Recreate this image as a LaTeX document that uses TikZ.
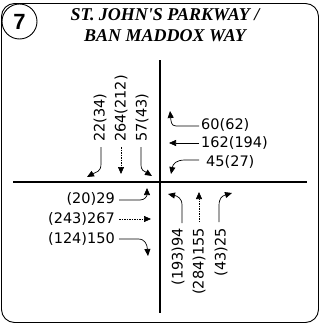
\documentclass[tikz,border=0pt]{standalone}
\usepackage{fontspec}
\setmainfont{DejaVu Sans}
\newfontfamily\titlefont{Liberation Serif}
\newfontfamily\numfont{Liberation Sans}
\usetikzlibrary{arrows.meta}
\begin{document}
\begin{tikzpicture}[x=1pt,y=-1pt,
  vol/.style={font=\fontsize{14.5}{16}\selectfont, inner sep=0pt},
  mv/.style={line width=0.7pt, -{Triangle[length=7pt,width=6pt]}},
  thru/.style={mv, dash pattern=on 1.5pt off 1pt},
  road/.style={line width=1.8pt}]
\useasboundingbox (0,0) rectangle (320,324);
\draw[line width=0.9pt, rounded corners=13pt] (1.5,3.5) rectangle (318.5,322.5);
\node[circle, draw, line width=0.9pt, fill=white, minimum size=35pt, inner sep=0pt,
  font=\numfont\bfseries\fontsize{22}{22}\selectfont] (num) at (19.5,21.5) {7};
\node[font=\titlefont\bfseries\itshape\fontsize{18}{21}\selectfont, align=center] (title) at (165,25)
  {ST. JOHN'S PARKWAY /\\BAN MADDOX WAY};
% roads
\coordinate (rn) at (160,60);
\coordinate (rs) at (160,313);
\coordinate (rw) at (13,182);
\coordinate (re) at (307,182);
\draw[road] (rn) -- (rs);
\draw[road] (rw) -- (re);
% southbound
\node[vol, rotate=90, anchor=west] (s1) at (100,142) {22(34)};
\node[vol, rotate=90, anchor=west] (s2) at (121,142) {264(212)};
\node[vol, rotate=90, anchor=west] (s3) at (142,142) {57(43)};
\coordinate (s1a) at (101,147); \coordinate (s1b) at (87,177);
\coordinate (s2a) at (121,147); \coordinate (s2b) at (121,174);
\coordinate (s3a) at (141,147); \coordinate (s3b) at (152,176);
\draw[mv] (s1a) -- (101,164) .. controls (101,172) and (96,172) .. (s1b);
\draw[thru] (s2a) -- (s2b);
\draw[mv] (s3a) -- (141,164) .. controls (141,171) and (144,171) .. (s3b);
% westbound
\node[vol, anchor=west] (w1) at (201,125) {60(62)};
\node[vol, anchor=west] (w2) at (201,143) {162(194)};
\node[vol, anchor=west] (w3) at (206,162) {45(27)};
\coordinate (w1a) at (199,126); \coordinate (w1b) at (170,111);
\coordinate (w2a) at (199,143); \coordinate (w2b) at (169,143);
\coordinate (w3a) at (199,160); \coordinate (w3b) at (171,174);
\draw[mv] (w1a) -- (176,126) .. controls (171,126) and (171,121) .. (w1b);
\draw[mv] (w2a) -- (w2b);
\draw[mv] (w3a) -- (185,160) .. controls (176,160) and (173,164) .. (w3b);
% eastbound
\node[vol, anchor=east] (e1) at (115,199) {(20)29};
\node[vol, anchor=east] (e2) at (115,219) {(243)267};
\node[vol, anchor=east] (e3) at (115,239) {(124)150};
\coordinate (e1a) at (119,200); \coordinate (e1b) at (147,188);
\coordinate (e2a) at (119,219); \coordinate (e2b) at (151,219);
\coordinate (e3a) at (119,239); \coordinate (e3b) at (148,256);
\draw[mv] (e1a) -- (140,200) .. controls (145,200) and (147,196) .. (e1b);
\draw[thru] (e2a) -- (e2b);
\draw[mv] (e3a) -- (138,239) .. controls (145,239) and (147,244) .. (e3b);
% northbound
\node[vol, rotate=90, anchor=east] (n1) at (178,228) {(193)94};
\node[vol, rotate=90, anchor=east] (n2) at (199,228) {(284)155};
\node[vol, rotate=90, anchor=east] (n3) at (221,228) {(43)25};
\coordinate (n1a) at (182,223); \coordinate (n1b) at (168,194);
\coordinate (n2a) at (199,222); \coordinate (n2b) at (199,192);
\coordinate (n3a) at (219,222); \coordinate (n3b) at (232,193);
\draw[mv] (n1a) -- (182,205) .. controls (182,198) and (177,196) .. (n1b);
\draw[thru] (n2a) -- (n2b);
\draw[mv] (n3a) -- (219,206) .. controls (219,198) and (222,196) .. (n3b);
\end{tikzpicture}
\end{document}
